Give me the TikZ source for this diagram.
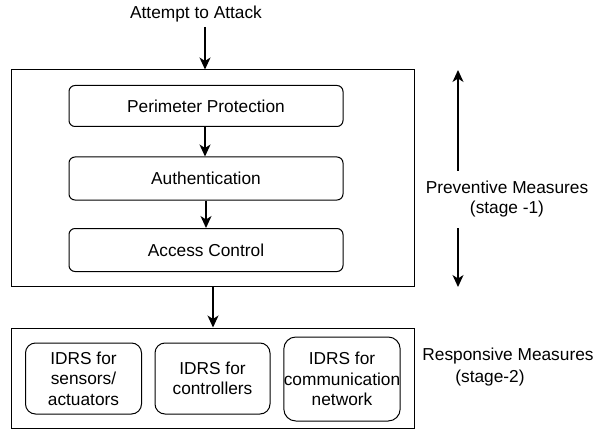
\documentclass[tikz,border=0pt]{standalone}
\usepackage{fontspec}
\setmainfont{Liberation Sans}
\usetikzlibrary{arrows.meta}
\begin{document}
\begin{tikzpicture}[x=1pt,y=-1pt,
  every node/.style={font=\fontsize{17.3}{20.5}\selectfont, inner sep=0pt},
  frame/.style={draw, line width=1pt},
  stage/.style={draw, line width=1pt, rounded corners=6pt, align=center},
  idrs/.style={draw, line width=1pt, rounded corners=10pt, align=center},
  label/.style={align=center},
  arr/.style={line width=1.4pt, -{Stealth[length=12pt,width=11pt,inset=3.5pt]}}
]
\useasboundingbox (0,0) rectangle (593,430);

% top label
\node[label] (attack) at (196,14) {Attempt to Attack};

% preventive stage: outer frame and three steps
\node[frame, minimum width=403pt, minimum height=216pt] (box1) at (212.5,178) {};
\node[stage, minimum width=274pt, minimum height=41pt] (perim) at (206,106) {Perimeter Protection};
\node[stage, minimum width=274pt, minimum height=43pt] (auth) at (206,178.5) {Authentication};
\node[stage, minimum width=274pt, minimum height=43pt] (acc) at (206,250) {Access Control};

% responsive stage: outer frame and three IDRS units
\node[frame, minimum width=403pt, minimum height=100pt] (box2) at (212.5,378) {};
\node[idrs, minimum width=116pt, minimum height=71pt] (sens) at (83.5,378.5) {IDRS for\\sensors/\\actuators};
\node[idrs, minimum width=115pt, minimum height=71pt] (ctrl) at (212.5,378.5) {IDRS for\\controllers};
\node[idrs, rounded corners=12pt, minimum width=116pt, minimum height=84pt] (comm) at (342,379) {IDRS for\\communication\\network};

% flow arrows
\coordinate (atk) at (205,27);
\draw[arr] (atk) -- (atk |- box1.north);
\draw[arr] (perim.south -| 205,0) -- (auth.north -| 205,0);
\draw[arr] (auth.south -| 206,0) -- (acc.north -| 206,0);
\draw[arr] (box1.south -| 213,0) -- (box2.north -| 213,0);

% stage annotations
\node[label] (prev) at (507,199) {Preventive Measures\\(stage -1)};
\coordinate (uptip) at (458,70);
\coordinate (downtip) at (458,287);
\draw[arr] (458,171) -- (uptip);
\draw[arr] (458,228) -- (downtip);

\node[label] (resp1) at (508,356) {Responsive Measures};
\node[label] (resp2) at (490,378) {(stage-2)};
\end{tikzpicture}
\end{document}
